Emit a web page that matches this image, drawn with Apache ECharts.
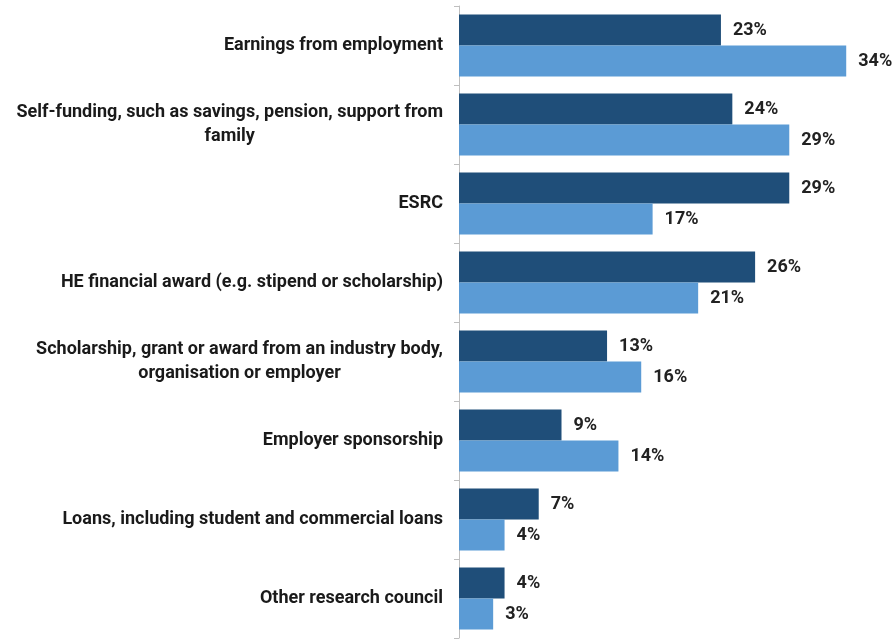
<!DOCTYPE html>
<html>
<head>
<meta charset="utf-8">
<style>
  html, body { margin: 0; padding: 0; background: #ffffff; }
  #chart { width: 895px; height: 643px; }
</style>
<script src="https://cdn.jsdelivr.net/npm/echarts@6/dist/echarts.min.js"></script>
</head>
<body>
<div id="chart"></div>
<script>
// Funding sources, top to bottom
const categories = [
  'Earnings from employment',
  'Self-funding, such as savings, pension, support from\nfamily',
  'ESRC',
  'HE financial award (e.g. stipend or scholarship)',
  'Scholarship, grant or award from an industry body,\norganisation or employer',
  'Employer sponsorship',
  'Loans, including student and commercial loans',
  'Other research council'
];

// Percentages for the two groups (dark bar first, light bar second)
const darkValues = [23, 24, 29, 26, 13, 9, 7, 4];
const lightValues = [34, 29, 17, 21, 16, 14, 4, 3];

const DARK = '#1f4e79';
const LIGHT = '#5b9bd5';
const FONT = 'Roboto';

const valueLabel = {
  show: true,
  position: 'right',
  distance: 12,
  formatter: '{c}%',
  fontFamily: FONT,
  fontWeight: 'bold',
  fontSize: 18,
  color: '#222222'
};

const chart = echarts.init(document.getElementById('chart'), null, { renderer: 'canvas' });

chart.setOption({
  animation: false,
  backgroundColor: '#ffffff',
  grid: { left: 459, right: 26, top: 6, bottom: 5, containLabel: false },
  xAxis: {
    type: 'value',
    min: 0,
    max: 36,
    show: false
  },
  yAxis: {
    type: 'category',
    data: categories,
    inverse: true,
    axisLine: { show: true, lineStyle: { color: '#bfbfbf', width: 1 } },
    axisTick: { show: true, length: 5, lineStyle: { color: '#bfbfbf' } },
    axisLabel: {
      margin: 16,
      fontFamily: FONT,
      fontWeight: 'bold',
      fontSize: 18,
      color: '#1a1a1a',
      lineHeight: 24,
      // each line is centred inside the label block
      formatter: function (v) {
        return v.split('\n').map(function (line) { return '{c|' + line + '}'; }).join('\n');
      },
      rich: {
        c: {
          align: 'center',
          fontFamily: FONT,
          fontWeight: 'bold',
          fontSize: 18,
          color: '#1a1a1a',
          lineHeight: 24
        }
      }
    },
    splitLine: { show: false }
  },
  series: [
    {
      type: 'bar',
      data: darkValues,
      barWidth: 31,
      barGap: '0%',
      itemStyle: { color: DARK },
      label: valueLabel
    },
    {
      type: 'bar',
      data: lightValues,
      barWidth: 31,
      barGap: '0%',
      itemStyle: { color: LIGHT },
      label: valueLabel
    }
  ]
});
</script>
</body>
</html>
